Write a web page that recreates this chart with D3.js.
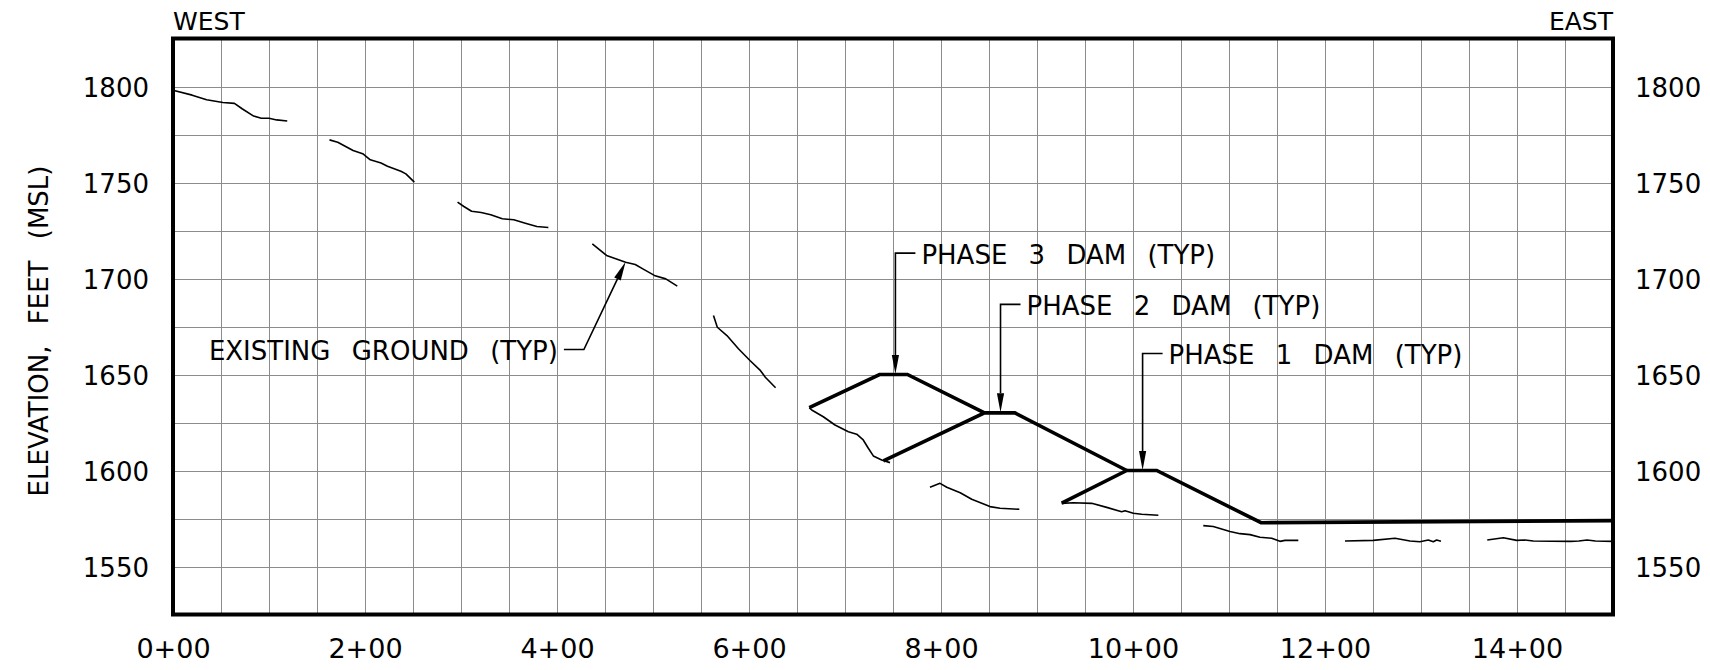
<!DOCTYPE html>
<html lang="en">
<head>
<meta charset="utf-8">
<title>Dam raise profile</title>
<script src="https://d3js.org/d3.v7.min.js"></script>
<style>
body { margin: 0; background: #fff; }
text { font-family: "DejaVu Sans", sans-serif; fill: #000; }
.grid line { stroke: #8c8c8c; stroke-width: 1; shape-rendering: crispEdges; }
.ground { fill: none; stroke: #000; stroke-width: 1.6; stroke-linejoin: round; }
.dam { fill: none; stroke: #000; stroke-width: 3.6; stroke-linejoin: miter; }
.leader { fill: none; stroke: #000; stroke-width: 1.6; }
.frame { fill: none; stroke: #000; stroke-width: 4; }
.label { font-size: 26px; word-spacing: 13px; }
</style>
</head>
<body>
<div id="canvas"></div>
<script>
// stations in feet along the profile, elevations in feet (MSL)
var stationTicks = [0, 200, 400, 600, 800, 1000, 1200, 1400];
var elevTicks = [1550, 1600, 1650, 1700, 1750, 1800];

// existing ground, drawn as broken pieces
var existingGround = [
  [[0,1798],[20,1795.5],[35,1793.1],[52,1791.7],[64,1791.2],[72,1788.4],[84,1784.6],[92,1783.5],[100,1783.5],[108,1782.6],[119,1782]],
  [[163,1772.2],[171.6,1771],[187.6,1766.7],[197.6,1765],[205.5,1761.8],[216.7,1760.2],[223.4,1758.5],[237.4,1755.9],[242.6,1754.5],[251.4,1750.2]],
  [[296.4,1739.8],[303,1737.5],[311,1735],[321,1734.4],[331,1733.2],[343,1731.1],[355,1730.6],[367,1728.8],[379,1727.1],[391,1726.6]],
  [[436.8,1718],[451.6,1712],[471.5,1708.5],[481.5,1707.3],[489.4,1705],[501.4,1701.6],[513.3,1699.8],[525.3,1696]],
  [[563,1680.7],[567,1674.6],[577,1670.3],[589,1663.4],[601,1657.3],[612,1652],[617,1648.6],[627.7,1643.1]],
  [[662.8,1632.7],[665.3,1631.5],[677.4,1628],[689.6,1623.7],[703.5,1620.2],[712.2,1618.9],[719,1615.9],[724.3,1611.6],[729.5,1607.6],[738.2,1605.5],[746.9,1604.1]],
  [[788.5,1591.3],[799,1593.3],[806,1591.3],[820,1588.4],[832,1585],[851,1581.2],[861.5,1580.3],[881.6,1579.8]],
  [[925.7,1582.9],[937.8,1583.2],[957,1582.9],[972.6,1580.8],[988.2,1578.5],[991.7,1579],[1000.3,1577.7],[1009,1577.2],[1026.4,1576.7]],
  [[1073.2,1571.3],[1083.6,1570.8],[1101,1568.2],[1111.5,1567.1],[1121.9,1566.6],[1132.3,1565.2],[1144.5,1564.7],[1153.1,1563.1],[1158.3,1563.6],[1172.2,1563.6]],
  [[1220.8,1563.3],[1250.3,1563.6],[1272.9,1564.7],[1288.5,1563.3],[1298.9,1562.9],[1307.6,1563.8],[1312.8,1562.9],[1316.3,1563.8],[1320.8,1563.1]],
  [[1369,1563.8],[1385.8,1565],[1399.7,1563.6],[1408.3,1563.8],[1417,1563.3],[1455.7,1563.1],[1464.4,1563.3],[1473,1563.8],[1481.7,1563.3],[1500,1563.1]]
];

var phase3Dam = [[662.8,1632.7],[736,1650],[765,1650],[845.3,1630]];
var phase2Dam = [[740,1605],[845.3,1630],[877,1630],[993.5,1600]];
var phase1Dam = [[925.7,1583],[993.5,1600],[1024.7,1600],[1133.4,1572.8],[1500,1573.9]];

var callouts = [
  { text: "EXISTING GROUND (TYP)", tip: [471.5,1708.7], elbow: [428,1663], side: "left" },
  { text: "PHASE 3 DAM (TYP)", tip: [752.5,1650.3], elbow: [752.5,1713.2], side: "right" },
  { text: "PHASE 2 DAM (TYP)", tip: [862,1630.3], elbow: [862,1686.5], side: "right" },
  { text: "PHASE 1 DAM (TYP)", tip: [1010,1600.3], elbow: [1010,1660.9], side: "right" }
];

var width = 1710, height = 670;
var margin = { left: 173, top: 38.5, right: 97, bottom: 55.5 };
var plotW = width - margin.left - margin.right;
var plotH = height - margin.top - margin.bottom;

var svg = d3.select("#canvas")
  .append("svg")
  .attr("width", width)
  .attr("height", height);

var x = d3.scaleLinear().domain([0, 1500]).range([0, plotW]);
var y = d3.scaleLinear().domain([1525, 1825]).range([plotH, 0]);

var g = svg.append("g").attr("transform", "translate(" + margin.left + "," + margin.top + ")");

// grid, 50 ft stations by 25 ft of elevation
var grid = g.append("g").attr("class", "grid");
grid.selectAll(".vline")
  .data(d3.range(50, 1500, 50))
  .enter().append("line")
  .attr("x1", d => Math.round(x(d)) + 0.5).attr("x2", d => Math.round(x(d)) + 0.5)
  .attr("y1", 0).attr("y2", plotH);
grid.selectAll(".hline")
  .data(d3.range(1550, 1825, 25))
  .enter().append("line")
  .attr("y1", d => Math.round(y(d)) + 0.5).attr("y2", d => Math.round(y(d)) + 0.5)
  .attr("x1", 0).attr("x2", plotW);

var line = d3.line().x(d => x(d[0])).y(d => y(d[1]));

g.selectAll(".ground")
  .data(existingGround)
  .enter().append("path")
  .attr("class", "ground")
  .attr("d", line);

g.selectAll(".dam")
  .data([phase3Dam, phase2Dam, phase1Dam])
  .enter().append("path")
  .attr("class", "dam")
  .attr("d", line);

// callouts with leader and arrow
callouts.forEach(function(c) {
  var tx = x(c.tip[0]), ty = y(c.tip[1]);
  var ex = x(c.elbow[0]), ey = y(c.elbow[1]);
  var dir = c.side == "left" ? -1 : 1;
  var dx = tx - ex, dy = ty - ey;
  var len = Math.sqrt(dx*dx + dy*dy);
  var ux = dx / len, uy = dy / len;
  var al = 19, aw = 3.6;
  var bx = tx - ux*al, by = ty - uy*al;

  g.append("path")
    .attr("class", "leader")
    .attr("d", "M" + (ex + dir*20) + "," + ey + "L" + ex + "," + ey + "L" + bx + "," + by);
  g.append("path")
    .attr("d", "M" + tx + "," + ty +
      "L" + (bx - uy*aw) + "," + (by + ux*aw) +
      "L" + (bx + uy*aw) + "," + (by - ux*aw) + "Z")
    .attr("fill", "#000");
  g.append("text")
    .attr("class", "label")
    .attr("x", ex + dir*26)
    .attr("y", ey + 10.5)
    .attr("text-anchor", c.side == "left" ? "end" : "start")
    .text(c.text);
});

// frame
g.append("rect")
  .attr("class", "frame")
  .attr("x", 0).attr("y", 0)
  .attr("width", plotW).attr("height", plotH);

// axes
function station(d) { return Math.floor(d / 100) + "+" + d3.format("02")(d % 100); }

var leftAxis = g.append("g")
  .call(d3.axisLeft(y).tickValues(elevTicks).tickSize(0).tickPadding(24).tickFormat(d3.format("d")));
var rightAxis = g.append("g")
  .attr("transform", "translate(" + plotW + ",0)")
  .call(d3.axisRight(y).tickValues(elevTicks).tickSize(0).tickPadding(22).tickFormat(d3.format("d")));
var bottomAxis = g.append("g")
  .attr("transform", "translate(0," + plotH + ")")
  .call(d3.axisBottom(x).tickValues(stationTicks).tickSize(0).tickFormat(station));

[leftAxis, rightAxis, bottomAxis].forEach(function(a) {
  a.select(".domain").remove();
  a.selectAll("text").attr("fill", "#000")
    .style("font-family", "DejaVu Sans, sans-serif");
});
leftAxis.selectAll("text").style("font-size", "26px").attr("dy", "0.38em");
rightAxis.selectAll("text").style("font-size", "26px").attr("dy", "0.38em");
bottomAxis.selectAll("text").style("font-size", "27px").attr("dy", null).attr("y", 43.5);

svg.append("text")
  .attr("class", "label")
  .attr("transform", "translate(48," + (margin.top + 292.5) + ") rotate(-90)")
  .attr("text-anchor", "middle")
  .text("ELEVATION, FEET (MSL)");

svg.append("text")
  .attr("x", margin.left).attr("y", 30)
  .style("font-size", "25px")
  .text("WEST");
svg.append("text")
  .attr("x", margin.left + plotW).attr("y", 30)
  .attr("text-anchor", "end")
  .style("font-size", "25px")
  .text("EAST");
</script>
</body>
</html>
